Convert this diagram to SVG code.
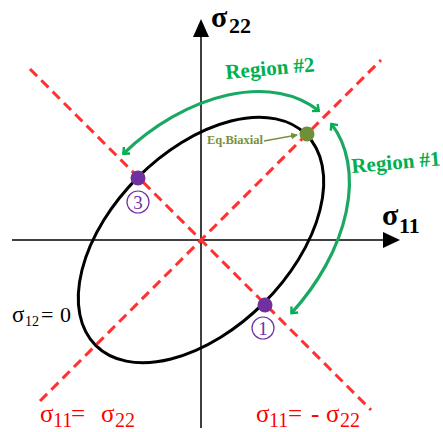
<svg xmlns="http://www.w3.org/2000/svg" width="443" height="432" viewBox="0 0 443 432">
<style>
text{font-family:"Liberation Serif","DejaVu Serif",serif}
.ax{stroke:#000;stroke-width:1.5;fill:none}
.dash{stroke:#ff3030;stroke-width:3;stroke-dasharray:10 6;fill:none}
.arc{stroke:#1aa862;stroke-width:3.2;fill:none;marker-start:url(#gh);marker-end:url(#gh)}
.pt{fill:#7030a0}
.num{fill:#fff;stroke:#7030a0;stroke-width:1.2}
.numt{fill:#7030a0;font-size:19px;text-anchor:middle}
.red{fill:#ff0000}
.grn{fill:#00b050;font-weight:bold;font-size:21px}
</style>
<defs>
<marker id="gh" viewBox="-6 -6 12 12" markerWidth="12" markerHeight="12" markerUnits="userSpaceOnUse" orient="auto-start-reverse" refX="0" refY="0">
<polyline points="-5,-4.5 0,0 -5,4.5" fill="none" stroke="#00b050" stroke-width="2.4"/>
</marker>
<marker id="oh" viewBox="-6 -4 8 8" markerWidth="8" markerHeight="8" markerUnits="userSpaceOnUse" orient="auto" refX="0" refY="0">
<polygon points="-6,-3.5 1,0 -6,3.5" fill="#76923c"/>
</marker>
</defs>
<rect width="443" height="432" fill="#fff"/>
<g id="connectors">
<line class="ax" x1="201" y1="36" x2="201" y2="428"/>
<polygon points="201,19 193,37 209,37" fill="#000"/>
<line class="ax" x1="12" y1="240" x2="384" y2="240"/>
<polygon points="400,240 383,232 383,248" fill="#000"/>
<g id="ellipse" transform="translate(201,240) rotate(-45)">
<ellipse cx="0" cy="0" rx="149" ry="89" fill="none" stroke="#000" stroke-width="3"/>
<path class="arc" d="M6.1,-115.9 A175,116 0 0 1 174.6,-8.1"/>
<path class="arc" d="M174.3,10.1 A175,116 0 0 1 12.2,115.7"/>
</g>
<line class="dash" x1="40" y1="401" x2="381" y2="60"/>
<line class="dash" x1="30" y1="69" x2="371" y2="410"/>
<line x1="264" y1="141" x2="297" y2="135" stroke="#76923c" stroke-width="1.6" marker-end="url(#oh)"/>
</g>
<g id="eq-biaxial">
<circle cx="307" cy="134" r="7.5" fill="#6f8f3a"/>
<text x="207" y="144" font-size="12.5" font-weight="bold" fill="#76923c">Eq.Biaxial</text>
</g>
<g id="point-3">
<circle class="pt" cx="138" cy="178" r="7.5"/>
<circle class="num" cx="138" cy="202" r="11"/>
<text class="numt" x="138" y="209">3</text>
</g>
<g id="point-1">
<circle class="pt" cx="265" cy="305" r="7.5"/>
<circle class="num" cx="263" cy="328" r="11"/>
<text class="numt" x="263" y="335">1</text>
</g>
<g id="axis-labels" font-weight="bold">
<text x="211" y="27" font-size="30">σ</text>
<text x="229" y="33" font-size="22">22</text>
<text x="382" y="225" font-size="30">σ</text>
<text x="399" y="233" font-size="22">11</text>
</g>
<g id="region-labels">
<text class="grn" x="226" y="79" transform="rotate(-5 226 79)">Region #2</text>
<text class="grn" x="352" y="173" transform="rotate(-5 352 173)">Region #1</text>
</g>
<g id="shear-label">
<text x="12" y="322" font-size="23">σ</text>
<text x="25" y="326" font-size="14">12</text>
<text x="41" y="322" font-size="22">=</text>
<text x="60" y="322" font-size="22">0</text>
</g>
<g id="line-labels" class="red">
<text x="40" y="422" font-size="25">σ</text>
<text x="53" y="427" font-size="20">11</text>
<text x="71" y="422" font-size="25">=</text>
<text x="101" y="422" font-size="25">σ</text>
<text x="115" y="427" font-size="20">22</text>
<text x="256" y="422" font-size="25">σ</text>
<text x="269" y="427" font-size="20">11</text>
<text x="288" y="422" font-size="25">=</text>
<text x="311" y="422" font-size="25">-</text>
<text x="326" y="422" font-size="25">σ</text>
<text x="340" y="427" font-size="20">22</text>
</g>
</svg>
